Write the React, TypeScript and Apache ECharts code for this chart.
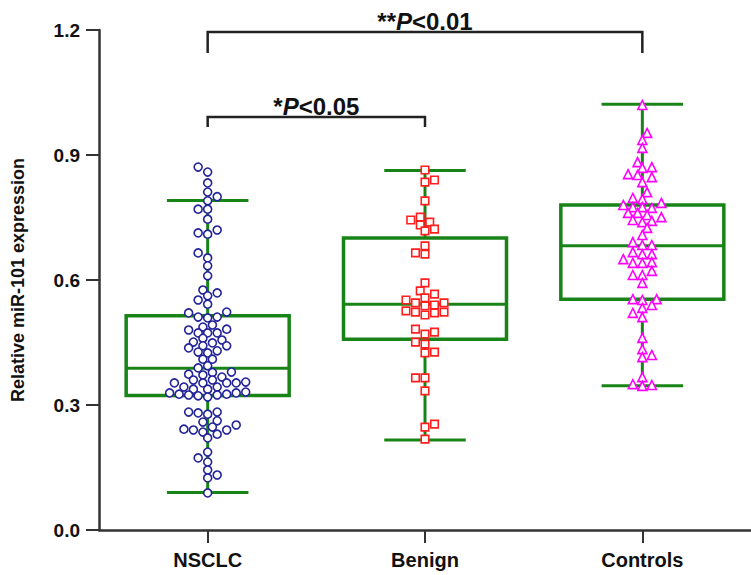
import React, { useEffect, useRef } from 'react';
import * as echarts from 'echarts';

const categories = ['NSCLC', 'Benign', 'Controls'];
const yAxisTitle = 'Relative miR-101 expression';

const nsclcValues = [
  0.871, 0.859, 0.833, 0.811, 0.800, 0.790, 0.770, 0.770, 0.746, 0.720, 0.713, 0.710,
  0.665, 0.653, 0.634, 0.610, 0.576, 0.569, 0.562, 0.552, 0.542, 0.523, 0.521, 0.511,
  0.511, 0.509, 0.492, 0.487, 0.482, 0.480, 0.473, 0.473, 0.473, 0.460, 0.456, 0.451,
  0.449, 0.442, 0.442, 0.437, 0.430, 0.427, 0.425, 0.410, 0.410, 0.394, 0.389, 0.379,
  0.378, 0.374, 0.372, 0.367, 0.360, 0.360, 0.355, 0.353, 0.353, 0.353, 0.353, 0.343,
  0.343, 0.338, 0.338, 0.331, 0.329, 0.329, 0.326, 0.326, 0.324, 0.324, 0.322, 0.319,
  0.283, 0.283, 0.281, 0.278, 0.262, 0.259, 0.252, 0.247, 0.242, 0.240, 0.240, 0.235,
  0.230, 0.221, 0.187, 0.173, 0.163, 0.144, 0.132, 0.125, 0.089,
];

const benignValues = [
  0.864, 0.840, 0.835, 0.790, 0.751, 0.744, 0.739, 0.732, 0.722, 0.718, 0.682, 0.665,
  0.662, 0.593, 0.574, 0.566, 0.557, 0.552, 0.545, 0.545, 0.540, 0.538, 0.526, 0.523,
  0.523, 0.521, 0.516, 0.482, 0.475, 0.470, 0.451, 0.446, 0.427, 0.425, 0.365, 0.365,
  0.334, 0.254, 0.247, 0.218,
];

const controlsValues = [
  1.020, 0.953, 0.936, 0.917, 0.883, 0.871, 0.869, 0.854, 0.852, 0.847, 0.835, 0.811,
  0.797, 0.794, 0.785, 0.780, 0.775, 0.775, 0.773, 0.761, 0.761, 0.756, 0.751, 0.744,
  0.742, 0.739, 0.725, 0.708, 0.691, 0.684, 0.684, 0.667, 0.662, 0.662, 0.650, 0.643,
  0.641, 0.641, 0.622, 0.612, 0.612, 0.593, 0.554, 0.554, 0.552, 0.540, 0.533, 0.521,
  0.511, 0.461, 0.434, 0.420, 0.415, 0.367, 0.350, 0.348, 0.346,
];

// [lower whisker, Q1, median, Q3, upper whisker]
const nsclcBox = [0.090, 0.323, 0.388, 0.514, 0.791];
const benignBox = [0.216, 0.458, 0.542, 0.701, 0.863];
const controlsBox = [0.346, 0.554, 0.682, 0.780, 1.022];

// comparisons: [from index, to index, bracket value, leg end value]
const comparisonPairs = [
  [0, 1, 0.991, 0.967],
  [0, 2, 1.195, 1.145],
];
const comparisonStars = ['*', '**'];
const comparisonP = ['<0.05', '<0.01'];

const FONT = '"Liberation Sans", Arial, Helvetica, sans-serif';
const GREEN = '#188418';
const AXIS = '#333333';

// plot area size used for the swarm layout
const PLOT_W = 658;
const PLOT_H = 500;

function swarmOffsets(values: number[], step: number, minDist: number): number[] {
  const pxX = PLOT_W / 3;
  const pxY = PLOT_H / 1.2;
  const order = values.map((_, i) => i).sort((a, b) => values[a] - values[b]);
  const placed: { x: number; y: number }[] = [];
  const offsets = new Array(values.length).fill(0);
  let sumX = 0;
  for (const idx of order) {
    const y = values[idx] * pxY;
    let chosen = 0;
    for (let k = 0; k < 200; k++) {
      const cands = k === 0 ? [0] : [k * step, -k * step];
      const ok = cands.filter((x) =>
        placed.every((p) => Math.abs(p.y - y) >= minDist || Math.hypot(p.x - x, p.y - y) >= minDist)
      );
      if (ok.length) {
        if (ok.length === 2) chosen = sumX > 0 ? ok[1] : ok[0];
        else chosen = ok[0];
        break;
      }
    }
    placed.push({ x: chosen, y });
    sumX += chosen;
    offsets[idx] = chosen / pxX;
  }
  return offsets;
}

export default function App() {
  const ref = useRef<HTMLDivElement>(null);

  useEffect(() => {
    document.body.style.margin = '0';
    if (!ref.current) return;
    const chart = echarts.init(ref.current, null, { renderer: 'svg' });

    const groups = [nsclcValues, benignValues, controlsValues];
    const symbols = ['circle', 'rect', 'triangle'];
    const colors = ['#23239a', '#ff1f1f', '#ff00ff'];
    const sizes = [8, 7.5, 9];

    const scatterSeries = groups.map((vals, gi) => {
      const offs = swarmOffsets(vals, 4.8, 7.2);
      return {
        type: 'scatter',
        xAxisIndex: 1,
        yAxisIndex: 0,
        z: 5,
        symbol: symbols[gi],
        symbolSize: sizes[gi],
        itemStyle: { color: '#ffffff', borderColor: colors[gi], borderWidth: 1.6, opacity: 1 },
        emphasis: { disabled: true },
        data: vals.map((v, j) => [gi + offs[j], v]),
      };
    });

    const boxes = [nsclcBox, benignBox, controlsBox];

    const option: any = {
      animation: false,
      grid: { left: 99, right: -6, top: 30, bottom: 45, containLabel: false },
      xAxis: [
        {
          type: 'category',
          data: categories,
          boundaryGap: true,
          axisLine: { show: true, onZero: false, lineStyle: { color: AXIS, width: 2.5 } },
          axisTick: { show: true, alignWithLabel: true, length: 13, lineStyle: { color: AXIS, width: 2 } },
          axisLabel: { color: '#111', fontSize: 20, fontWeight: 'bold', fontFamily: FONT, margin: 20 },
          splitLine: { show: false },
        },
        { type: 'value', min: -0.5, max: 2.5, show: false },
      ],
      yAxis: {
        type: 'value',
        min: 0,
        max: 1.2,
        interval: 0.3,
        name: yAxisTitle,
        nameLocation: 'middle',
        nameRotate: 90,
        nameGap: 72,
        nameTextStyle: { color: '#111', fontSize: 18, fontWeight: 'bold', fontFamily: FONT },
        axisLine: { show: true, onZero: false, lineStyle: { color: AXIS, width: 2.5 } },
        axisTick: { show: true, length: 13, lineStyle: { color: AXIS, width: 2 } },
        axisLabel: {
          color: '#111',
          fontSize: 19,
          fontWeight: 'bold',
          fontFamily: FONT,
          margin: 19,
          formatter: (v: number) => v.toFixed(1),
        },
        splitLine: { show: false },
      },
      series: [
        {
          type: 'custom',
          xAxisIndex: 1,
          yAxisIndex: 0,
          z: 2,
          clip: false,
          encode: { x: 0, y: [1, 2, 3, 4, 5] },
          data: boxes.map((b, i) => [i, ...b]),
          renderItem: (params: any, api: any) => {
            const xi = api.value(0);
            const pMin = api.coord([xi, api.value(1)]);
            const pQ1 = api.coord([xi, api.value(2)]);
            const pMed = api.coord([xi, api.value(3)]);
            const pQ3 = api.coord([xi, api.value(4)]);
            const pMax = api.coord([xi, api.value(5)]);
            const bw = api.size([0.75, 0])[0];
            const cw = api.size([0.375, 0])[0];
            const cx = pMed[0];
            const ls = { stroke: GREEN, lineWidth: 3, fill: 'none' };
            return {
              type: 'group',
              children: [
                { type: 'line', shape: { x1: cx, y1: pMax[1], x2: cx, y2: pQ3[1] }, style: ls },
                { type: 'line', shape: { x1: cx, y1: pQ1[1], x2: cx, y2: pMin[1] }, style: ls },
                { type: 'line', shape: { x1: cx - cw / 2, y1: pMax[1], x2: cx + cw / 2, y2: pMax[1] }, style: ls },
                { type: 'line', shape: { x1: cx - cw / 2, y1: pMin[1], x2: cx + cw / 2, y2: pMin[1] }, style: ls },
                {
                  type: 'rect',
                  shape: { x: cx - bw / 2, y: pQ3[1], width: bw, height: pQ1[1] - pQ3[1] },
                  style: { stroke: GREEN, lineWidth: 3.5, fill: 'none' },
                },
                { type: 'line', shape: { x1: cx - bw / 2, y1: pMed[1], x2: cx + bw / 2, y2: pMed[1] }, style: ls },
              ],
            };
          },
        },
        ...scatterSeries,
        {
          type: 'custom',
          xAxisIndex: 1,
          yAxisIndex: 0,
          z: 6,
          clip: false,
          encode: { x: [0, 1], y: [2, 3] },
          data: comparisonPairs,
          renderItem: (params: any, api: any) => {
            const i = params.dataIndex;
            const a = api.coord([api.value(0), api.value(2)]);
            const b = api.coord([api.value(1), api.value(2)]);
            const legEnd = api.coord([api.value(0), api.value(3)])[1];
            const base = { fontSize: 24, fontWeight: 'bold', fontFamily: FONT, fill: '#111' };
            return {
              type: 'group',
              children: [
                {
                  type: 'polyline',
                  shape: { points: [[a[0], legEnd], [a[0], a[1]], [b[0], b[1]], [b[0], legEnd]] },
                  style: { stroke: '#222', lineWidth: 2.5, fill: 'none' },
                },
                {
                  type: 'text',
                  x: (a[0] + b[0]) / 2,
                  y: a[1] + 1,
                  style: {
                    text: `{s|${comparisonStars[i]}}{p|P}{s|${comparisonP[i]}}`,
                    align: 'center',
                    verticalAlign: 'bottom',
                    rich: {
                      s: { ...base },
                      p: { ...base, fontStyle: 'italic' },
                    },
                  },
                },
              ],
            };
          },
        },
      ],
    };

    chart.setOption(option);
    return () => chart.dispose();
  }, []);

  return <div ref={ref} style={{ width: 751, height: 575 }} />;
}
